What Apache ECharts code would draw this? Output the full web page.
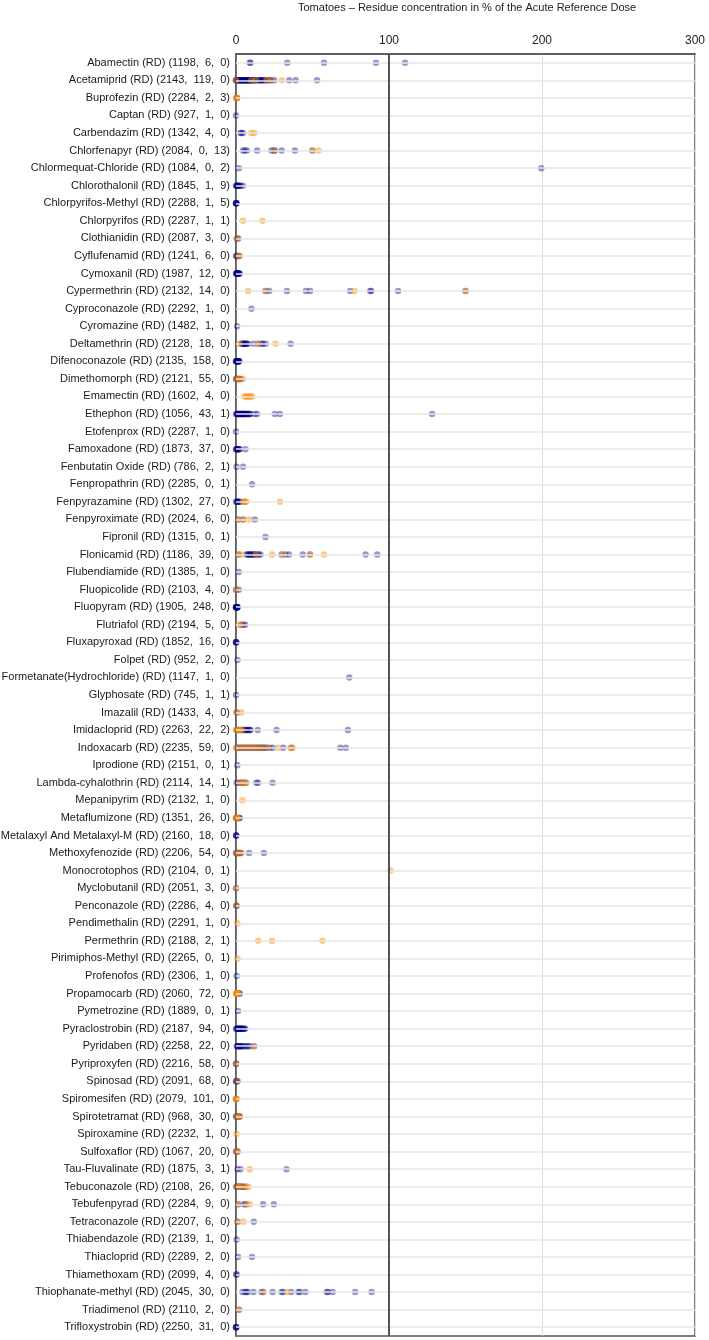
<!DOCTYPE html>
<html>
<head>
<meta charset="utf-8">
<script src="https://cdn.jsdelivr.net/npm/echarts@6/dist/echarts.min.js"></script>
<style>
html,body{margin:0;padding:0;background:#fff;}
#chart{width:709px;height:1340px;}
</style>
</head>
<body>
<div id="chart"></div>
<script>
const categories = [
"Abamectin (RD) (1198,  6,  0)",
"Acetamiprid (RD) (2143,  119,  0)",
"Buprofezin (RD) (2284,  2,  3)",
"Captan (RD) (927,  1,  0)",
"Carbendazim (RD) (1342,  4,  0)",
"Chlorfenapyr (RD) (2084,  0,  13)",
"Chlormequat-Chloride (RD) (1084,  0,  2)",
"Chlorothalonil (RD) (1845,  1,  9)",
"Chlorpyrifos-Methyl (RD) (2288,  1,  5)",
"Chlorpyrifos (RD) (2287,  1,  1)",
"Clothianidin (RD) (2087,  3,  0)",
"Cyflufenamid (RD) (1241,  6,  0)",
"Cymoxanil (RD) (1987,  12,  0)",
"Cypermethrin (RD) (2132,  14,  0)",
"Cyproconazole (RD) (2292,  1,  0)",
"Cyromazine (RD) (1482,  1,  0)",
"Deltamethrin (RD) (2128,  18,  0)",
"Difenoconazole (RD) (2135,  158,  0)",
"Dimethomorph (RD) (2121,  55,  0)",
"Emamectin (RD) (1602,  4,  0)",
"Ethephon (RD) (1056,  43,  1)",
"Etofenprox (RD) (2287,  1,  0)",
"Famoxadone (RD) (1873,  37,  0)",
"Fenbutatin Oxide (RD) (786,  2,  1)",
"Fenpropathrin (RD) (2285,  0,  1)",
"Fenpyrazamine (RD) (1302,  27,  0)",
"Fenpyroximate (RD) (2024,  6,  0)",
"Fipronil (RD) (1315,  0,  1)",
"Flonicamid (RD) (1186,  39,  0)",
"Flubendiamide (RD) (1385,  1,  0)",
"Fluopicolide (RD) (2103,  4,  0)",
"Fluopyram (RD) (1905,  248,  0)",
"Flutriafol (RD) (2194,  5,  0)",
"Fluxapyroxad (RD) (1852,  16,  0)",
"Folpet (RD) (952,  2,  0)",
"Formetanate(Hydrochloride) (RD) (1147,  1,  0)",
"Glyphosate (RD) (745,  1,  1)",
"Imazalil (RD) (1433,  4,  0)",
"Imidacloprid (RD) (2263,  22,  2)",
"Indoxacarb (RD) (2235,  59,  0)",
"Iprodione (RD) (2151,  0,  1)",
"Lambda-cyhalothrin (RD) (2114,  14,  1)",
"Mepanipyrim (RD) (2132,  1,  0)",
"Metaflumizone (RD) (1351,  26,  0)",
"Metalaxyl And Metalaxyl-M (RD) (2160,  18,  0)",
"Methoxyfenozide (RD) (2206,  54,  0)",
"Monocrotophos (RD) (2104,  0,  1)",
"Myclobutanil (RD) (2051,  3,  0)",
"Penconazole (RD) (2286,  4,  0)",
"Pendimethalin (RD) (2291,  1,  0)",
"Permethrin (RD) (2188,  2,  1)",
"Pirimiphos-Methyl (RD) (2265,  0,  1)",
"Profenofos (RD) (2306,  1,  0)",
"Propamocarb (RD) (2060,  72,  0)",
"Pymetrozine (RD) (1889,  0,  1)",
"Pyraclostrobin (RD) (2187,  94,  0)",
"Pyridaben (RD) (2258,  22,  0)",
"Pyriproxyfen (RD) (2216,  58,  0)",
"Spinosad (RD) (2091,  68,  0)",
"Spiromesifen (RD) (2079,  101,  0)",
"Spirotetramat (RD) (968,  30,  0)",
"Spiroxamine (RD) (2232,  1,  0)",
"Sulfoxaflor (RD) (1067,  20,  0)",
"Tau-Fluvalinate (RD) (1875,  3,  1)",
"Tebuconazole (RD) (2108,  26,  0)",
"Tebufenpyrad (RD) (2284,  9,  0)",
"Tetraconazole (RD) (2207,  6,  0)",
"Thiabendazole (RD) (2139,  1,  0)",
"Thiacloprid (RD) (2289,  2,  0)",
"Thiamethoxam (RD) (2099,  4,  0)",
"Thiophanate-methyl (RD) (2045,  30,  0)",
"Triadimenol (RD) (2110,  2,  0)",
"Trifloxystrobin (RD) (2250,  31,  0)"
];

// blue series values per category (% ARfD)
const blueValues = [
[9, 9.5, 33.5, 57.5, 91.5, 110.5],
[0,0.5,1,1.5,2,2.5,3,3.5,4,4.5,5,5.5,6,6.5,7,7.5,8,8.5,9,9.5,10,10.5,11,11.5,12,13,14,15,16,17,18,19,20,21,22,23,25,0,1,2,3,4,5,6,7,8,9,10,12,14,16,18,34.8,39,53],
[0.3,0.6],
[0],
[3,3.5,4.5],
[4.6,5.7,7.2,13.8,23.2,24.7,25.4,29.8,38.5,49.9],
[1.8,199.5],
[0,0.3,0.6,1,1.3,1.8,2.3,3,4.5],
[0,0,0.1,0.2,0.4],
[],
[0.5,1.5],
[0,0.5,1,1.5,2],
[0,0.2,0.4,0.6,0.8,1,1.2,1.4,1.6,1.8,2,2.4],
[19.3,21.7,33.3,45.7,48.4,74.6,87.7,88.4,105.9,150],
[10.1],
[0.7],
[3.5,4,4.5,5,5.5,6,6.5,7,8,11.4,14.6,16.8,17.5,19.4,35.7],
[0,0,0.3,0.6,0.9,1.2,1.5,1.8,2.1,0.5,1,1.5,2],
[0,0.5,1,1.5,2,2.5,3],
[],
[0,0.5,1,1.5,2,2.5,3,3.5,4,4.5,5,5.5,6,6.5,7,7.5,8,8.5,9,9.5,1,2,3,4,5,6,12.3,13.8,25.4,28.7,128.2],
[0],
[0,0.3,0.5,1,1.2,1.5,2,2.5,6.2],
[0.4,4.6],
[10.5],
[0,0.5,1,1.5,2,2.5,5.5],
[1.6,4.6,12.3],
[19.3],
[1.6,7,7.5,8,9,9.5,10,11,11.5,12,13,14,15,16,29.8,32.4,34.6,43.6,48.4,84.7,92.3],
[1.8],
[0,1.8],
[0,0,0.1,0.2,0.3,0.4,0.5,0.6,0.7,0.8,0.9,1],
[3.5,4.8,6],
[0,0,0.1,0.2],
[1],
[74],
[0],
[0.4],
[0.5,1.5,2.5,3.5,4.6,5,5.5,6.5,7,7.5,8.5,9,9.5,14.2,26.5,73.1],
[0.5,1.5,2.5,3.5,4.5,5.5,6.5,7.5,8.5,9.5,10.5,11.5,12.5,13.5,14.5,15.5,16.5,17,18,19,20,22,24,30.8,36.3,68.2,71.8],
[0.9],
[0.4,2,3,4,5,6.5,13.3,14.4,23.9],
[],
[0,0.5,1,1.5,2,2.5],
[0,0.1,0.2],
[0,0.5,1,1.5,2,2.5,3,8.5,18.2],
[],
[0],
[0.2,0.4],
[],
[],
[],
[0.4],
[0.5,2,2.5],
[1.3],
[0,0.5,1,1.5,2,2.5,3,3.5,4,4.5,5,5.5,6,1,2,3],
[0.5,1,1.5,2,2.5,3,3.5,4,5,6,7,8,9,11.8],
[0,0],
[0,0.3,0.5,1],
[0],
[0,0.5,1,1.5,2,2.5],
[],
[0,0.5,1],
[1,2.9,33],
[0,1,1.5,2,3,3.5,4,5,6],
[1.6,5.3,6.3,17.7,24.7],
[1,11.6],
[0.4],
[1.3,10.5],
[0.2,0.4],
[4.2,6,6.8,7.6,11.4,16.6,17.7,23.9,29.8,30.8,36.1,40.8,41.7,45.3,59.4,60.1,63.2,77.9,88.6],
[2],
[0,0,0.1,0.2]
];

// orange series values per category (% ARfD)
const orangeValues = [
[],
[0,10,13,20,23,30],
[0.3,0.5,0.8],
[],
[10,12],
[24.7,49.9,53.8],
[],
[],
[],
[4.6,17.3],
[1],
[1.5,2.5],
[],
[7.9,19.3,77.4,150],
[],
[],
[2.3,14.6,25.8],
[],
[0.5,1.5,2.5,4.6],
[5.5,6.5,7.5,8.5,9.5,10.5],
[],
[],
[],
[],
[],
[4.6,5.5,6.8,28.7],
[1.6,4.6,8.5],
[],
[1.6,4,13,23.6,31,48.4,57.5],
[],
[0],
[],
[1.8,3.5],
[],
[],
[],
[],
[0.4,3.5],
[0,1,2,3,4],
[0,2,4,6,8,10,12,14,16,18,21,27.5,35.5,37],
[],
[2,3.5,5,6.5],
[4.2],
[0,0.5,1,1.5],
[],
[0.5,1.5,4],
[100.9],
[0],
[0.4],
[0.9],
[14.5,23.6,56.5],
[1],
[],
[0,0.3,0.5,0.8,1,1.5],
[],
[],
[11.8],
[0],
[1],
[0,0.2,0.4],
[0.5,1.5,2.5],
[0.3],
[0.5,1],
[9],
[1,2,3,5,7,8],
[1.6,7,9],
[1,4.8],
[],
[],
[],
[17.7,33.9],
[2],
[]
];

const xMin = 0, xMax = 300, xStep = 100;
const refLine = 100;
const titleText = "Tomatoes \u2013 Residue concentration in % of the Acute Reference Dose";

function toPoints(vals){
  const out = [];
  vals.forEach((arr, i) => arr.forEach(v => out.push([v, categories[i]])));
  return out;
}

const chart = echarts.init(document.getElementById('chart'), null, {renderer:'canvas'});
const FONT = "'Liberation Sans', Arial, sans-serif";
chart.setOption({
  animation: false,
  backgroundColor: '#fff',
  textStyle: {fontFamily: FONT},
  title: {
    text: titleText,
    left: 298, top: 2, padding: 0,
    textStyle: {fontSize: 11, fontWeight: 'normal', color: '#222', fontFamily: FONT}
  },
  grid: {
    left: 236, right: 14, top: 54, bottom: 4,
    containLabel: false, outerBoundsMode: 'none',
    show: true, borderColor: '#555', borderWidth: 1.5, backgroundColor: 'transparent'
  },
  xAxis: {
    type: 'value', position: 'top',
    min: xMin, max: xMax, interval: xStep,
    axisLine: {show: true, lineStyle: {color: '#555', width: 1.5}},
    axisTick: {show: false},
    axisLabel: {fontSize: 12, color: '#222', margin: 7, fontFamily: FONT},
    splitLine: {show: true, lineStyle: {color: '#dcdcdc', width: 1}}
  },
  yAxis: {
    type: 'category', data: categories, inverse: true,
    axisLine: {show: true, lineStyle: {color: '#555', width: 1.5}},
    axisTick: {show: false},
    axisLabel: {fontSize: 11, color: '#1a1a1a', margin: 6, fontFamily: FONT, interval: 0},
    splitLine: {show: false}
  },
  series: [
    {
      type: 'scatter', data: [], z: 1, silent: true,
      markLine: {
        silent: true, symbol: 'none', label: {show: false},
        lineStyle: {color: '#e6e6e6', width: 1.5, type: 'solid'},
        data: categories.map(c => ({yAxis: c}))
      }
    },
    {
      name: 'blue', type: 'scatter', z: 3, symbol: 'circle', symbolSize: 6.5,
      itemStyle: {color: 'rgba(0,0,128,0.4)', borderWidth: 0, opacity: 1},
      data: toPoints(blueValues)
    },
    {
      name: 'orange', type: 'scatter', z: 4, symbol: 'circle', symbolSize: 6.5,
      itemStyle: {color: 'rgba(255,140,0,0.48)', borderWidth: 0, opacity: 1},
      data: toPoints(orangeValues)
    },
    {
      type: 'scatter', data: [], z: 5, silent: true,
      markLine: {
        silent: true, symbol: 'none', label: {show: false},
        lineStyle: {color: '#555', width: 2, type: 'solid'},
        data: [{xAxis: refLine}]
      }
    }
  ]
});
</script>
</body>
</html>
